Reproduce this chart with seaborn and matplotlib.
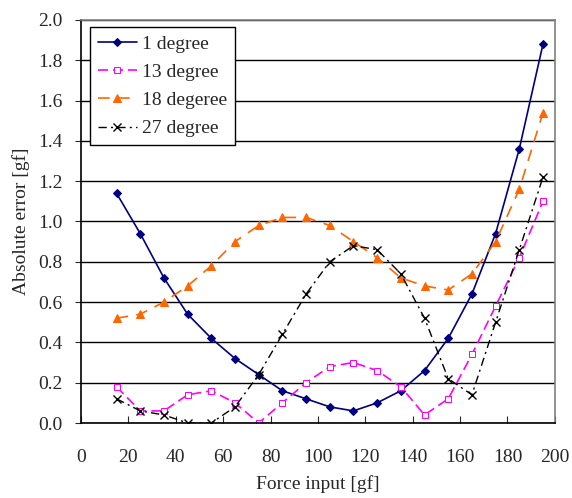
import numpy as np
import pandas as pd
import matplotlib
matplotlib.use("Agg")
import matplotlib.pyplot as plt
import seaborn as sns

# ---- data ----
force = [15, 25, 35, 45, 55, 65, 75, 85, 95, 105, 115, 125, 135, 145, 155, 165, 175, 185, 195]
deg1 = [1.14, 0.94, 0.72, 0.54, 0.42, 0.32, 0.24, 0.16, 0.12, 0.08, 0.06, 0.10, 0.16, 0.26, 0.42, 0.64, 0.94, 1.36, 1.88]
deg13 = [0.18, 0.06, 0.06, 0.14, 0.16, 0.10, 0.00, 0.10, 0.20, 0.28, 0.30, 0.26, 0.18, 0.04, 0.12, 0.34, 0.58, 0.82, 1.10]
deg18 = [0.52, 0.54, 0.60, 0.68, 0.78, 0.90, 0.98, 1.02, 1.02, 0.98, 0.90, 0.82, 0.72, 0.68, 0.66, 0.74, 0.90, 1.16, 1.54]
deg27 = [0.12, 0.06, 0.04, 0.00, 0.00, 0.08, 0.24, 0.44, 0.64, 0.80, 0.88, 0.86, 0.74, 0.52, 0.22, 0.14, 0.50, 0.86, 1.22]

labels = ["1 degree", "13 degree", "18 degeree", "27 degree"]

sns.set_style("white")
plt.rcParams['font.family'] = ['Liberation Serif', 'DejaVu Serif']

fig = plt.figure(figsize=(5.72, 4.98), dpi=100)
ax = fig.add_axes([0.1416, 0.1506, 0.8284, 0.8094])

# 1 degree
sns.lineplot(x=force, y=deg1, ax=ax, color="#000080", lw=1.2, marker="D",
             markersize=4.5, markeredgecolor="#000080", label=labels[0])
# 13 degree
sns.lineplot(x=force, y=deg13, ax=ax, color="#FF00FF", lw=1.2, marker="s",
             markersize=5, markerfacecolor="white", markeredgecolor="#FF00FF",
             label=labels[1])
ax.lines[-1].set_dashes([6, 3])
# 18 degree
sns.lineplot(x=force, y=deg18, ax=ax, color="#FF6600", lw=1.2, marker="^",
             markersize=6, markeredgecolor="#FF6600", label=labels[2])
ax.lines[-1].set_dashes([7, 5])
# 27 degree
sns.lineplot(x=force, y=deg27, ax=ax, color="black", lw=1.0, marker="x",
             markersize=6, markeredgewidth=1.0, markeredgecolor="black",
             label=labels[3])
ax.lines[-1].set_dashes([6, 3, 1.5, 3])

ax.set_xlim(0, 200)
ax.set_ylim(0, 2.0)
ax.set_xticks(np.arange(0, 201, 20))
ax.set_yticks(np.arange(0, 2.01, 0.2))
ax.set_yticklabels([f"{v:.1f}" for v in np.arange(0, 2.01, 0.2)])
ax.tick_params(axis="x", direction="in", length=5, labelsize=14, pad=19, bottom=True)
ax.tick_params(axis="y", direction="out", length=4, labelsize=14, pad=9, left=True)

ax.yaxis.grid(True, color="black", lw=1.0)
ax.xaxis.grid(False)
ax.set_axisbelow(True)

for s in ["left", "bottom"]:
    ax.spines[s].set_color("black")
    ax.spines[s].set_linewidth(1.2)
for s in ["top", "right"]:
    ax.spines[s].set_color("#808080")
    ax.spines[s].set_linewidth(1.2)

ax.set_xlabel("Force input [gf]", fontsize=14, labelpad=6)
ax.set_ylabel("Absolute error [gf]", fontsize=14, labelpad=6)

leg = ax.legend(loc="upper left", bbox_to_anchor=(0.019, 0.982), fontsize=14,
                frameon=True, fancybox=False, edgecolor="black",
                framealpha=1, borderpad=0.4, labelspacing=0.55,
                handlelength=2.0, handletextpad=0.3, borderaxespad=0)
leg.get_frame().set_linewidth(1.0)

fig.savefig("out.png", dpi=100)
